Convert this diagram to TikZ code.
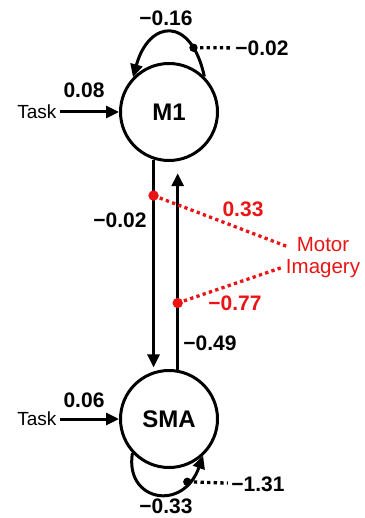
\documentclass[tikz,border=0pt]{standalone}
\usepackage{fontspec}
\setmainfont{Liberation Sans}
\usepackage{tikz}
\usetikzlibrary{positioning,arrows.meta}
\definecolor{imred}{RGB}{235,20,20}

\begin{document}
\begin{tikzpicture}[x=1pt,y=-1pt,
		region/.style={circle,draw=black,line width=3pt,minimum size=97pt,inner sep=0pt,font=\fontsize{24}{28}\selectfont\bfseries},
		conn/.style={line width=3pt,-{Triangle[length=13pt,width=12pt]}},
		coef/.style={font=\fontsize{21}{24}\selectfont\bfseries},
		imcoef/.style={coef,text=imred},
		dotline/.style={line width=3.3pt,dash pattern=on 3.3pt off 3.3pt},
		imdotline/.style={dotline,draw=imred}]

		\useasboundingbox (0,0) rectangle (364,518);

		%regions
		\node[region] (m1) at (169,112) {M1};
		\node[region] (sma) at (169,419) {SMA};

		%task inputs
		\node[font=\fontsize{19}{22}\selectfont,left=59pt of m1] (t1) {Task};
		\node[font=\fontsize{19}{22}\selectfont,left=59pt of sma] (t2) {Task};
		\draw[conn] (t1) -- (m1);
		\draw[conn] (t2) -- (sma);
		\node[coef] (c1) at (84,90) {0.08};
		\node[coef] (c2) at (84,400) {0.06};

		%self loops
		\draw[conn] (m1.45) .. controls +(-13,-61) and +(16,-58) .. (m1.136) coordinate[pos=0.2] (m1d);
		\draw[conn] (sma.223) .. controls +(-8,48) and +(-20,57) .. (sma.-47) coordinate[pos=0.8] (smad);
		\node[coef] (a11) at (166,18) {−0.16};
		\node[coef] (a22) at (166,506) {−0.33};
		\fill (m1d) circle (4.2pt);
		\fill (smad) circle (4.2pt);
		\node[coef] (b11) at (262,48) {−0.02};
		\node[coef] (b22) at (258,484) {−1.31};
		\draw[dotline] (m1d) -- (b11);
		\draw[dotline] (smad) -- (b22);

		%connections
		\draw[conn,shorten >=4pt] (m1.252) -- (sma.108) coordinate[pos=0.17] (r1);
		\draw[conn,shorten >=12pt] (sma.80) -- (m1.280) coordinate[pos=0.32] (r2);
		\node[coef] (a21) at (120,220) {−0.02};
		\node[coef] (a12) at (210,343) {−0.49};

		%modulation
		\node[font=\fontsize{20.5}{22}\selectfont,text=imred,align=center] (mi) at (323,258) {Motor\\Imagery};
		\draw[imdotline] (r1) -- ([xshift=6pt,yshift=11pt]mi.west);
		\draw[imdotline] (r2) -- ([xshift=1pt,yshift=-9pt]mi.west);
		\fill[imred] (r1) circle (5.2pt);
		\fill[imred] (r2) circle (5.2pt);
		\node[imcoef] (m21) at (243,209) {0.33};
		\node[imcoef] (m12) at (235,303) {−0.77};

\end{tikzpicture}
\end{document}
